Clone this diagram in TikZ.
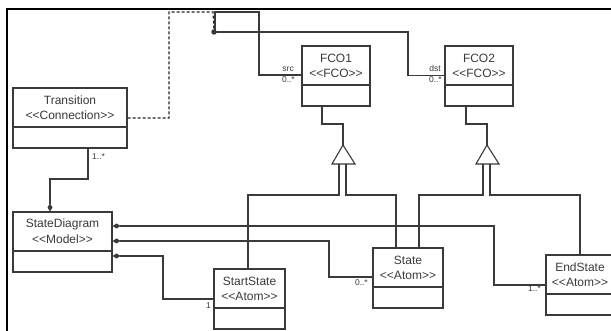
\documentclass[tikz,border=0pt]{standalone}
\usepackage{fontspec}
\setmainfont{Liberation Sans}
\usetikzlibrary{arrows.meta,fit,calc}
\definecolor{ln}{HTML}{3A3A3A}
\newcommand\st[1]{<{}<#1>{}>}
\newcommand\umlbox[6]{%
  \node[box, fit={(#2,#3) (#4,{#3+60})}] (#1) {};
  \draw[conn] (#2,{#3+39}) -- (#4,{#3+39});
  \node[txt] (#1a) at ({(#2+#4)/2},{#3+12}) {#5};
  \node[txt] (#1b) at ({(#2+#4)/2},{#3+27.5}) {#6};
}
\begin{document}
\begin{tikzpicture}[x=1pt,y=-1pt,
  box/.style={draw=ln, line width=1.1pt, inner sep=0pt, fill=white},
  txt/.style={font=\fontsize{12}{14}\selectfont, text=ln, inner sep=0pt},
  mult/.style={font=\fontsize{8.5}{10}\selectfont, text=ln, inner sep=0pt},
  conn/.style={draw=ln, line width=1.1pt},
  dia/.tip={Diamond[length=8pt,width=5pt]},
  gen/.style={conn, fill=white},
]
\useasboundingbox (0,0) rectangle (611,331);
\fill[white] (0,0) rectangle (611,331);
% frame
\draw[line width=2.6pt, black] (7,400) -- (7,9) -- (700,9);

% boxes
\umlbox{trans}{13}{88}{127}{Transition}{\st{Connection}}
\umlbox{fcoA}{302}{46}{370}{FCO1}{\st{FCO}}
\umlbox{fcoB}{445}{46}{513}{FCO2}{\st{FCO}}
\umlbox{sd}{13}{212}{112}{StateDiagram}{\st{Model}}
\umlbox{start}{214}{269}{285}{StartState}{\st{Atom}}
\umlbox{state}{373}{248}{443}{State}{\st{Atom}}
\umlbox{endst}{546}{255}{614}{EndState}{\st{Atom}}

% association (connection) src / dst
\node[circle, fill=ln, inner sep=0pt, minimum size=5.5pt] (dot) at (214,32) {};
\draw[conn, draw=black!85, dash pattern=on 3pt off 2pt] (trans.east |- 0,118) -- (169,118) -- (169,12) -- (213,12) -- (dot.center);
\draw[conn] (dot.center) -- (215,32) -- (215,12) -- (259,12) |- (fcoA.west |- 0,75);
\draw[conn] (dot.center) -- (408,32) |- (fcoB.west |- 0,75.5);
\node[mult, anchor=east] (srcl) at (294,69) {src};
\node[mult, anchor=east] (srcm) at (295,80) {0..*};
\node[mult, anchor=east] (dstl) at (441,68) {dst};
\node[mult, anchor=east] (dstm) at (442,80) {0..*};

% generalization FCO1
\coordinate (apA) at (343,145);
\draw[conn] (fcoA.south -| 322,0) |- (343,124) -- (apA);
\draw[gen] (apA) -- (332,164) -- (355,164) -- cycle;
\draw[conn] (339,164) |- (248,195) -- (start.north -| 248,0);
\draw[conn] (346,164) |- (396,195) -- (state.north -| 396,0);

% generalization FCO2
\coordinate (apB) at (487,145);
\draw[conn] (fcoB.south -| 466,0) |- (487,124) -- (apB);
\draw[gen] (apB) -- (476,164) -- (499,164) -- cycle;
\draw[conn] (483,164) |- (419,195) -- (state.north -| 419,0);
\draw[conn] (490,164) |- (580,195) -- (endst.north -| 580,0);

% compositions
\draw[conn, -dia] (trans.south -| 88,0) |- (50,179) -- (sd.north -| 50,0);
\node[mult, anchor=west] (tm) at (92,157) {1..*};

\draw[conn, dia-] (sd.east |- 0,226) -- (494,226) |- (endst.west |- 0,285);
\node[mult, anchor=east] (em) at (541,289) {1..*};

\draw[conn, dia-] (sd.east |- 0,241) -- (329,241) |- (state.west |- 0,277);
\node[mult, anchor=east] (stm) at (368,283) {0..*};

\draw[conn, dia-] (sd.east |- 0,256) -- (163,256) |- (start.west |- 0,299);
\node[mult, anchor=east] (ssm) at (211,306) {1};
\end{tikzpicture}
\end{document}
